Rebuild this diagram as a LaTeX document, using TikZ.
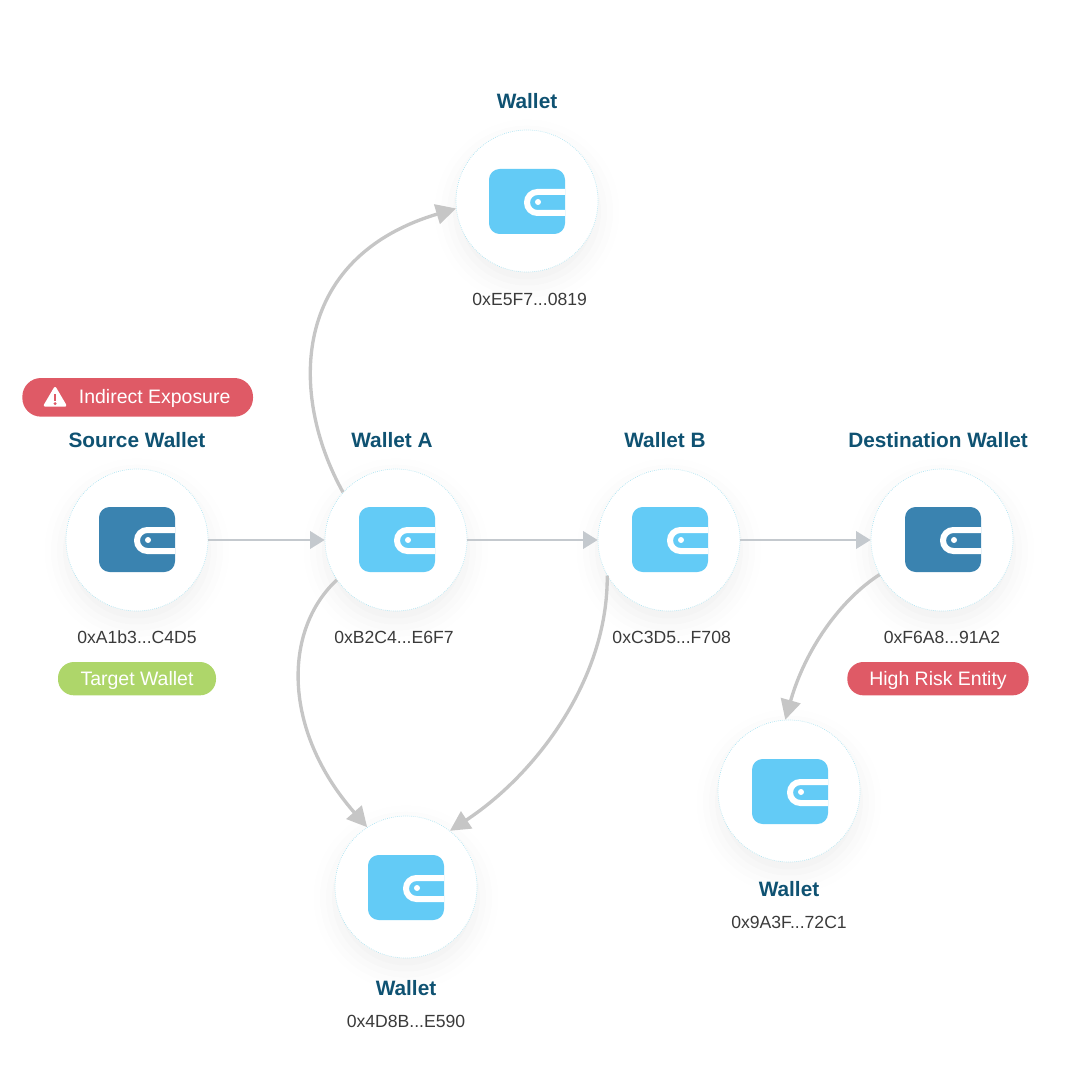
\documentclass[tikz,border=0pt]{standalone}
\usepackage{fontspec}
\setmainfont{Liberation Sans}
\usetikzlibrary{arrows.meta,shadows.blur}
\definecolor{walletdark}{HTML}{3A83B0}
\definecolor{walletlight}{HTML}{63CBF6}
\definecolor{titleblue}{HTML}{0F5272}
\definecolor{addrgray}{HTML}{3A3A3A}
\definecolor{riskred}{HTML}{DF5A66}
\definecolor{targetgreen}{HTML}{AED66A}
\definecolor{linkgray}{HTML}{C6C6C6}
\definecolor{flowgray}{HTML}{C4C9CE}
\definecolor{ringcyan}{HTML}{A8E3F2}
\tikzset{
  walletnode/.style={circle, draw=ringcyan, densely dotted, line width=0.5pt, fill=white, minimum size=106.5pt, inner sep=0pt,
    blur shadow={shadow xshift=0pt, shadow yshift=-8pt, shadow blur radius=16pt, shadow opacity=6}},
  titlelabel/.style={text=titleblue, font=\fontsize{15.6}{18}\selectfont\bfseries},
  addrlabel/.style={text=addrgray, font=\fontsize{13.2}{16}\selectfont},
  pill/.style={rounded corners=12pt, text=white, inner sep=0pt, minimum height=25pt, text height=11pt, text depth=1.5pt, font=\fontsize{14.6}{17}\selectfont},
  link/.style={draw=linkgray, line width=2.5pt, -{Triangle[length=15pt,width=15pt]}},
  flow/.style={draw=flowgray, line width=2.2pt, -{Triangle[length=11pt,width=13pt]}},
  pics/walleticon/.style={code={
    \fill[#1, rounded corners=8pt] (-38,-33) rectangle (38,32);
    \draw[white, line width=4.5pt, rounded corners=7.8pt] (38,-10) -- (0,-10) -- (0,11) -- (38,11);
    \fill[white] (11,0) circle (3);
  }}
}
\begin{document}
\begin{tikzpicture}[x=0.75pt, y=-0.75pt]
\useasboundingbox (0,0) rectangle (1080,1080);
\node[walletnode] (src) at (137,540) {};
\node[walletnode] (wa) at (396,540) {};
\node[walletnode] (wb) at (669,540) {};
\node[walletnode] (dst) at (942,540) {};
\node[walletnode] (top) at (527,201) {};
\node[walletnode] (low) at (406,887) {};
\node[walletnode] (side) at (789,791) {};
\pic at (src) {walleticon=walletdark};
\pic at ([xshift=0.75pt]wa.center) {walleticon=walletlight};
\pic at ([xshift=0.75pt]wb.center) {walleticon=walletlight};
\pic at ([xshift=0.75pt]dst.center) {walleticon=walletdark};
\pic at ([yshift=-0.75pt]top.center) {walleticon=walletlight};
\pic at ([yshift=-0.75pt]low.center) {walleticon=walletlight};
\pic at ([shift={(0.75pt,-0.75pt)}]side.center) {walleticon=walletlight};
% names and addresses
\node[titlelabel, above of=src, node distance=75pt] (srcname) {Source Wallet};
\node[titlelabel, above of=wa, node distance=75pt, xshift=-3pt] (waname) {Wallet A};
\node[titlelabel, above of=wb, node distance=75pt, xshift=-3pt] (wbname) {Wallet B};
\node[titlelabel, above of=dst, node distance=75pt, xshift=-3pt] (dstname) {Destination Wallet};
\node[titlelabel, above of=top, node distance=75pt] (topname) {Wallet};
\node[titlelabel, below of=low, node distance=76pt] (lowname) {Wallet};
\node[titlelabel, below of=side, node distance=73.5pt] (sidename) {Wallet};
\node[addrlabel, below of=src, node distance=73pt] (srcaddr) {0xA1b3...C4D5};
\node[addrlabel, below of=wa, node distance=73pt, xshift=-1.5pt] (waaddr) {0xB2C4...E6F7};
\node[addrlabel, below of=wb, node distance=73pt, xshift=2pt] (wbaddr) {0xC3D5...F708};
\node[addrlabel, below of=dst, node distance=73pt] (dstaddr) {0xF6A8...91A2};
\node[addrlabel, below of=top, node distance=74pt, xshift=2pt] (topaddr) {0xE5F7...0819};
\node[addrlabel, below of=lowname, node distance=25pt] (lowaddr) {0x4D8B...E590};
\node[addrlabel, below of=sidename, node distance=25pt] (sideaddr) {0x9A3F...72C1};
% tags
\node[pill, fill=riskred, minimum width=173pt, minimum height=29pt, rounded corners=14pt, above of=src, node distance=107pt, xshift=0.5pt] (alert) {\hspace{25.5pt}Indirect Exposure};
\fill[white, draw=white, line width=2pt, line join=round] ([shift={(33,-9)}]alert.west) -- ([shift={(43,8)}]alert.west) -- ([shift={(23,8)}]alert.west) -- cycle;
\fill[riskred] ([shift={(31.8,-3.5)}]alert.west) rectangle ([shift={(34.2,3.5)}]alert.west);
\fill[riskred] ([shift={(33,6.3)}]alert.west) circle (1.6);
\node[pill, fill=targetgreen, minimum width=118.5pt, below of=srcaddr, node distance=31pt] (target) {Target Wallet};
\node[pill, fill=riskred, minimum width=136pt, below of=dstaddr, node distance=31pt, xshift=-3pt] (risk) {High Risk Entity};
% links
\draw[flow] (src) -- (wa);
\draw[flow] (wa) -- (wb);
\draw[flow] (wb) -- (dst);
\draw[link] (wa.138) .. controls (289,395) and (290,258) .. (top.186);
\draw[link] (wa.214) .. controls (283,630) and (282,730) .. (low.123);
\draw[link] (wb.210) .. controls (608,680) and (535,775) .. (low.52);
\draw[link] (dst.209) .. controls (840,600) and (805,650) .. (side.93);
\end{tikzpicture}
\end{document}
